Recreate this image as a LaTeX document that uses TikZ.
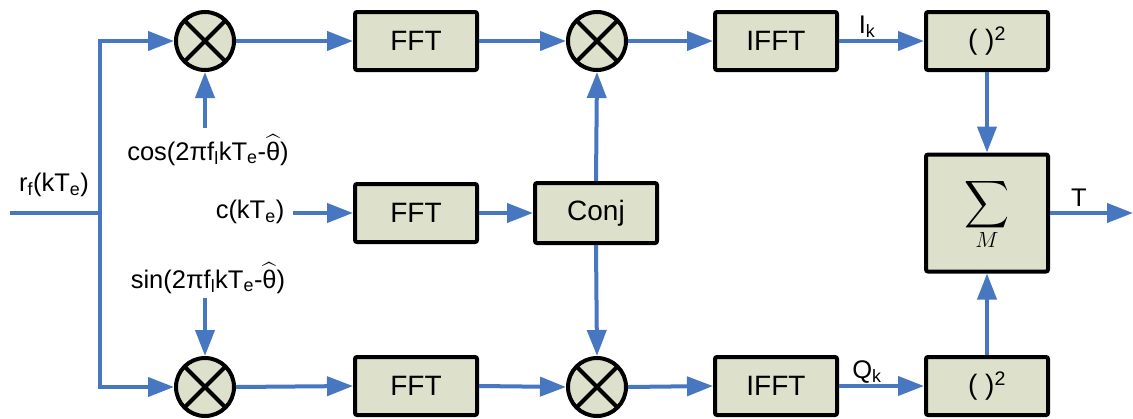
\documentclass[tikz,border=0pt]{standalone}
\usepackage{amsmath}
\usepackage{graphicx}
\usepackage{fontspec}
\setmainfont{Liberation Sans}
\usetikzlibrary{arrows.meta}
\definecolor{boxfill}{HTML}{DDE1CB}
\definecolor{flow}{HTML}{4677C0}
\newcommand{\thhat}{$\widehat{\text{θ}}$}
\begin{document}
\begin{tikzpicture}[x=1pt,y=-1pt,
  blk/.style={draw=black,line width=4pt,fill=boxfill,rounded corners=2pt,minimum width=122pt,minimum height=58pt,inner sep=0pt,font=\fontsize{28}{32}\selectfont},
  mult/.style={circle,draw=black,line width=4pt,fill=boxfill,minimum size=58pt,inner sep=0pt,
    path picture={\draw[line width=4pt] (path picture bounding box.north west) -- (path picture bounding box.south east)
      (path picture bounding box.north east) -- (path picture bounding box.south west);}},
  lbl/.style={font=\fontsize{25.5}{28}\selectfont,inner sep=0pt},
  flowline/.style={draw=flow,line width=4pt},
  arr/.style={flowline,-{Triangle[length=26pt,width=19pt]}}
]
\useasboundingbox (0,0) rectangle (1133,418);

% nodes
\node[mult] (m1) at (205,41) {};
\node[mult] (m3) at (205,387) {};
\node[mult] (m2) at (597,41) {};
\node[mult] (m4) at (597,387) {};
\node[blk] (f1) at (416,41) {FFT};
\node[blk] (f2) at (416,213) {FFT};
\node[blk] (f3) at (416,386) {FFT};
\node[blk,minimum height=60pt] (cj) at (596,213) {Conj};
\node[blk] (i1) at (776,41) {IFFT};
\node[blk] (i2) at (776,386) {IFFT};
\node[blk] (s1) at (987,41) {( )\textsuperscript{2}};
\node[blk] (s2) at (987,386) {( )\textsuperscript{2}};
\node[blk,minimum height=117pt,align=center] (sm) at (987,213)
  {\resizebox*{45pt}{53pt}{$\displaystyle\sum$}\\[0pt]\resizebox*{!}{15pt}{$M$}};

% labels
\node[lbl] (lr) at (54,185) {r\textsubscript{f}(kT\textsubscript{e})};
\node[lbl] (lcos) at (208,150) {cos(2πf\textsubscript{l}kT\textsubscript{e}-\thhat)};
\node[lbl] (lsin) at (208,278) {sin(2πf\textsubscript{l}kT\textsubscript{e}-\thhat)};
\node[lbl] (lc) at (250,212) {c(kT\textsubscript{e})};
\node[lbl] (lI) at (867,27) {I\textsubscript{k}};
\node[lbl] (lQ) at (867,372) {Q\textsubscript{k}};
\node[lbl] (lT) at (1079,198) {T};

% coordinates
\coordinate (in) at (10,213);
\coordinate (jn) at (100,213);
\coordinate (cin) at (293,213);
\coordinate (cosin) at (205,128);
\coordinate (sinin) at (205,298);
\coordinate (out) at (1133,213);

% connectors
\draw[flowline] (in) -- (jn);
\draw[arr] (jn) |- (m1.west);
\draw[arr] (jn) |- (m3.west);
\draw[arr] (cosin) -- (m1.south);
\draw[arr] (sinin) -- (m3.north);
\draw[arr] (cin) -- (f2.west);
\draw[arr] (m1.east) -- (f1.west);
\draw[arr] (m3.east) -- (f3.west);
\draw[arr] (f1.east) -- (m2.west);
\draw[arr] (f3.east) -- (m4.west);
\draw[arr] (f2.east) -- (cj.west);
\draw[arr] (cj.north) -- (m2.south);
\draw[arr] (cj.south) -- (m4.north);
\draw[arr] (m2.east) -- (i1.west);
\draw[arr] (m4.east) -- (i2.west);
\draw[arr] (i1.east) -- (s1.west);
\draw[arr] (i2.east) -- (s2.west);
\draw[arr] (s1.south) -- (sm.north);
\draw[arr] (s2.north) -- (sm.south);
\draw[arr] (sm.east) -- (out);
\end{tikzpicture}
\end{document}
